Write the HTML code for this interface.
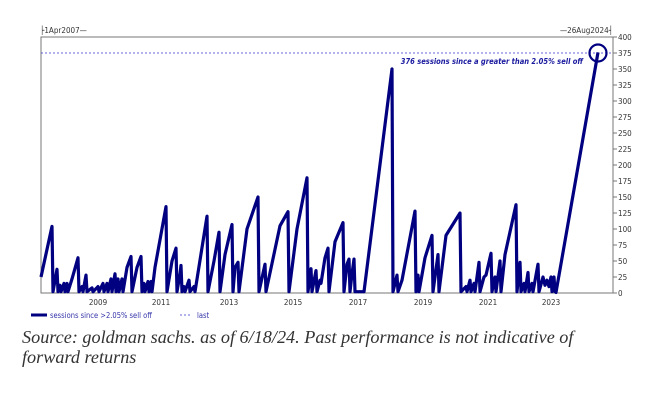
<!DOCTYPE html>
<html><head><meta charset="utf-8"><style>
html,body{margin:0;padding:0;background:#fff;width:646px;height:400px;overflow:hidden}
svg{position:absolute;left:0;top:0}
.cap{position:absolute;left:22px;top:327px;font-family:"Liberation Serif",serif;font-style:italic;font-size:18.2px;line-height:20px;color:#333;width:575px}
</style></head><body>
<svg width="646" height="400" font-family="DejaVu Sans Condensed, Liberation Sans, sans-serif">
<rect x="41" y="37" width="572" height="256" fill="none" stroke="#777" stroke-width="1"/>
<g font-size="8" fill="#333">
<text x="40" y="33">├1Apr2007—</text>
<text x="613" y="33" text-anchor="end">—26Aug2024┤</text>
</g>
<g font-size="8" fill="#333" id="yl"></g>
<line x1="41" y1="53" x2="613" y2="53" stroke="#3333cc" stroke-width="0.8" stroke-dasharray="2,2"/>
<g font-size="8" fill="#333" text-anchor="middle">
<text x="98" y="305">2009</text><text x="161" y="305">2011</text><text x="229" y="305">2013</text><text x="293" y="305">2015</text><text x="358" y="305">2017</text><text x="423" y="305">2019</text><text x="488" y="305">2021</text><text x="551" y="305">2023</text>
</g>
<polyline id="s" fill="none" stroke="#000080" stroke-width="3.2" stroke-linejoin="round"/>
<circle cx="598" cy="53" r="8.5" fill="none" stroke="#000080" stroke-width="2.2"/>
<text x="583" y="64" font-size="7.5" font-style="italic" font-weight="bold" fill="#1a1aa0" text-anchor="end">376 sessions since a greater than 2.05% sell off</text>
<line x1="31" y1="315" x2="47" y2="315" stroke="#000080" stroke-width="3"/>
<text x="50" y="318" font-size="7.5" fill="#3333aa">sessions since &gt;2.05% sell off</text>
<line x1="180" y1="315" x2="192" y2="315" stroke="#3333cc" stroke-width="0.8" stroke-dasharray="2,2"/>
<text x="197" y="318" font-size="7.5" fill="#3333aa">last</text>
</svg>
<div class="cap">Source: goldman sachs. as of 6/18/24. Past performance is not indicative of forward returns</div>
<script>
var d=[41,25,52,104,53,2,57,37,58,2,60,12,61,2,64,15,65,2,67,15,68,2,72,22,78,55,79,2,82,10,83,2,86,28,87,2,92,8,93,2,98,10,99,2,103,15,104,2,107,15,108,2,111,22,112,2,115,30,116,2,118,22,119,2,122,22,123,2,127,40,131,57,132,2,137,40,141,57,142,2,144,15,145,2,148,18,149,2,151,18,152,2,155,40,166,135,167,2,172,50,176,70,177,2,180,30,181,43,182,2,184,10,185,2,189,20,190,2,194,10,195,2,207,120,208,2,214,50,219,95,220,2,225,60,232,107,233,2,235,40,238,48,239,2,247,100,258,150,259,2,265,45,266,2,280,105,288,127,289,2,297,100,307,180,308,2,311,38,312,2,316,35,317,2,320,20,321,15,325,55,328,70,329,2,335,80,343,110,344,2,347,45,349,53,350,2,352,30,354,53,355,2,364,2,392,350,393,2,397,28,398,2,402,20,415,128,416,2,418,28,419,2,425,55,432,90,433,2,438,60,439,2,446,90,460,125,461,2,466,10,467,2,470,20,471,2,474,15,475,2,479,48,480,2,484,25,486,28,491,62,492,2,495,25,496,2,500,50,501,2,505,60,516,138,517,2,520,48,521,2,524,15,525,2,528,32,529,2,532,15,533,2,538,45,539,2,543,25,545,12,547,20,549,10,551,25,552,2,554,25,555,2,556,1,598,376];
var p=[];for(var i=0;i<d.length;i+=2)p.push(d[i]+','+(293-d[i+1]*0.64).toFixed(1));
document.getElementById('s').setAttribute('points',p.join(' '));
var g=document.getElementById('yl'),ns='http://www.w3.org/2000/svg';
for(var v=0;v<=400;v+=25){var y=293-v*0.64;var l=document.createElementNS(ns,'line');l.setAttribute('x1',613);l.setAttribute('x2',617);l.setAttribute('y1',y);l.setAttribute('y2',y);l.setAttribute('stroke','#777');g.appendChild(l);
var t=document.createElementNS(ns,'text');t.setAttribute('x',618);t.setAttribute('y',y+3);t.textContent=v;g.appendChild(t);}
</script>
</body></html>
